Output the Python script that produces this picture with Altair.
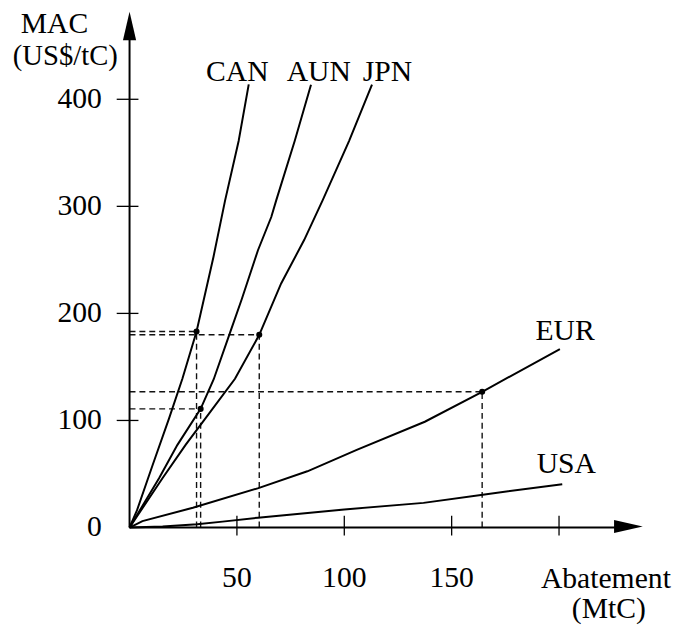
import altair as alt
import pandas as pd

# ---------------- data ----------------
can_x = [0, 3.4, 10.8, 18.4, 24.6, 31.2, 39.1, 44.5, 50.8, 55.5]
can_y = [0, 15.7, 58.6, 101.9, 138.9, 183.1, 253, 305.6, 361, 414]

aun_x = [0, 13.8, 22.3, 33.1, 39.2, 46.8, 52.2, 59.8, 66.0, 68.3, 76.9, 84.5]
aun_y = [0, 46.3, 77.2, 110.8, 138.5, 182, 213, 259, 290, 305.6, 361, 413.6]

jpn_x = [0, 15.4, 26.1, 37.6, 49.1, 60.4, 70.6, 81.3, 89.9, 102.2, 112.9]
jpn_y = [0, 46.3, 77.2, 108, 138.9, 180.0, 228, 268.5, 305.6, 361, 413.6]

eur_x = [0, 6, 29.5, 60, 82.8, 105.8, 137.5, 164.2, 200.4]
eur_y = [0, 6, 18.5, 36.8, 52.5, 72.5, 98.8, 126.8, 166.7]

usa_x = [0, 15.4, 31.5, 43.3, 59.8, 100, 136.9, 164.5, 201.5]
usa_y = [0, 1.0, 3.0, 5.5, 9.2, 16.9, 23.0, 30.7, 40.5]

pt_region = ["CAN", "AUN", "JPN", "EUR"]
pt_x = [31.2, 33.1, 60.4, 164.2]
pt_y = [183.1, 110.8, 180.0, 126.8]

label_text = ["CAN", "AUN", "JPN", "EUR", "USA"]
label_x = [50.2, 88.1, 120.1, 202.8, 203.4]
label_y = [417.4, 417.4, 417.4, 175.4, 50.8]

x_tick_vals = [50, 100, 150, 200]
x_label_vals = [50, 100, 150]
y_tick_vals = [100, 200, 300, 400]
y_label_vals = [0, 100, 200, 300, 400]

# ---------------- tables ----------------
rows = []
for name, xs, ys in [("CAN", can_x, can_y), ("AUN", aun_x, aun_y),
                     ("JPN", jpn_x, jpn_y), ("EUR", eur_x, eur_y),
                     ("USA", usa_x, usa_y)]:
    for i, (a, b) in enumerate(zip(xs, ys)):
        rows.append({"region": name, "x": a, "y": b, "order": i})
curves = pd.DataFrame(rows)

pts = pd.DataFrame({"region": pt_region, "x": pt_x, "y": pt_y,
                    "zero": [0] * len(pt_x)})
labels = pd.DataFrame({"text": label_text, "x": label_x, "y": label_y})
xt = pd.DataFrame({"v": x_tick_vals})
xl = pd.DataFrame({"v": x_label_vals, "t": [str(v) for v in x_label_vals]})
yt = pd.DataFrame({"v": y_tick_vals})
yl = pd.DataFrame({"v": y_label_vals, "t": [str(v) for v in y_label_vals]})

W, H = 520, 520
X_MAX, Y_MAX = 239.3, 480
FONT = "Liberation Serif"
FS = 30


def X(f, **kw):
    return alt.X(f, scale=alt.Scale(domain=[0, X_MAX], nice=False, zero=False), axis=None, **kw)


def Y(f, **kw):
    return alt.Y(f, scale=alt.Scale(domain=[0, Y_MAX], nice=False, zero=False), axis=None, **kw)


lines = alt.Chart(curves).mark_line(color="black", strokeWidth=2, clip=False).encode(
    x=X("x:Q"), y=Y("y:Q"), detail="region:N", order="order:Q")

dash_style = dict(color="#111111", strokeWidth=1.4, strokeDash=[6, 4])
hdash = alt.Chart(pts).mark_rule(**dash_style).encode(
    x=X("zero:Q"), x2="x:Q", y=Y("y:Q"))
vdash = alt.Chart(pts).mark_rule(**dash_style).encode(
    x=X("x:Q"), y=Y("zero:Q"), y2="y:Q")

dots = alt.Chart(pts).mark_circle(color="black", size=38, opacity=1).encode(
    x=X("x:Q"), y=Y("y:Q"))

line_labels = alt.Chart(labels).mark_text(
    font=FONT, fontSize=FS, color="black", align="center", baseline="alphabetic").encode(
    x=X("x:Q"), y=Y("y:Q"), text="text:N")

# axes drawn by hand (lines crossing ticks and arrow heads)
yaxis = alt.Chart(pd.DataFrame({"a": [0]})).mark_rule(color="black", strokeWidth=2).encode(
    x=alt.value(0), y=alt.value(H), y2=alt.value(22))
xaxis = alt.Chart(pd.DataFrame({"a": [0]})).mark_rule(color="black", strokeWidth=2).encode(
    x=alt.value(0), x2=alt.value(495), y=alt.value(H))

ARROW = "M0,-1L0.46,1L-0.46,1Z"
yarrow = alt.Chart(pd.DataFrame({"a": [0]})).mark_point(
    shape=ARROW, size=841, filled=True, color="black", opacity=1, strokeWidth=0).encode(
    x=alt.value(0), y=alt.value(12.5))
xarrow = alt.Chart(pd.DataFrame({"a": [0]})).mark_point(
    shape=ARROW, size=841, filled=True, color="black", opacity=1, strokeWidth=0, angle=90).encode(
    x=alt.value(504.8), y=alt.value(H - 1))

xticks = alt.Chart(xt).mark_rule(color="black", strokeWidth=1.3).encode(
    x=X("v:Q"), y=alt.value(H - 12), y2=alt.value(H + 8))
yticks = alt.Chart(yt).mark_rule(color="black", strokeWidth=1.3).encode(
    y=Y("v:Q"), x=alt.value(-13), x2=alt.value(9))

xlabels = alt.Chart(xl).mark_text(
    font=FONT, fontSize=FS, color="black", align="center", baseline="alphabetic").encode(
    x=X("v:Q"), y=alt.value(580), text="t:N")
ylabels = alt.Chart(yl).mark_text(
    font=FONT, fontSize=FS, color="black", align="right", baseline="alphabetic", dy=9).encode(
    y=Y("v:Q"), x=alt.value(-28), text="t:N")


def title_text(t, xv, yv, size=FS):
    return alt.Chart(pd.DataFrame({"t": [t]})).mark_text(
        font=FONT, fontSize=size, color="black", align="center", baseline="alphabetic").encode(
        x=alt.value(xv), y=alt.value(yv), text="t:N")


titles = [title_text("MAC", -76, 20), title_text("(US$/tC)", -65, 52, 29),
          title_text("Abatement", 482, 581), title_text("(MtC)", 485, 612)]

chart = alt.layer(
    hdash, vdash, lines, dots, line_labels, yaxis, xaxis, yarrow, xarrow,
    xticks, yticks, xlabels, ylabels, *titles
).properties(
    width=W, height=H,
    autosize=alt.AutoSizeParams(type="none"),
    padding={"left": 123, "top": 2, "right": 36, "bottom": 100},
    background="white",
).configure_view(stroke=None)

chart.save("out.html", embed_options={"renderer": "svg", "actions": False})
